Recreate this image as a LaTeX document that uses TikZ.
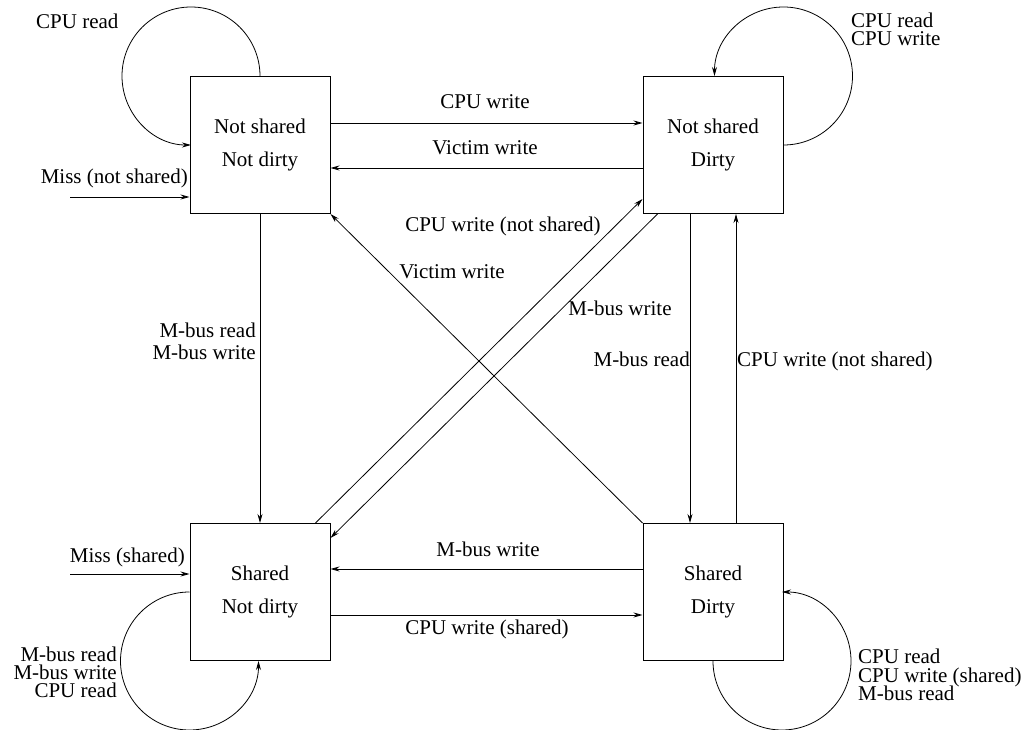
\documentclass[tikz,border=0pt]{standalone}
\usepackage{fontspec}
\setmainfont{Liberation Serif}
\usetikzlibrary{arrows.meta}
\begin{document}
\begin{tikzpicture}[x=1pt,y=1pt,
  state/.style={draw, line width=1pt, minimum width=140pt, minimum height=137pt, inner sep=0pt,
    align=center, font=\fontsize{21}{33}\selectfont},
  lbl/.style={inner sep=0pt, font=\fontsize{21}{17}\selectfont},
  tr/.style={line width=0.8pt, -{Stealth[length=9pt,width=5pt]}},
]
\useasboundingbox (0,0) rectangle (1029,729);
% states
\node[state] (NSND) at (260,584) {Not shared\\Not dirty};
\node[state] (NSD)  at (713,584) {Not shared\\Dirty};
\node[state] (SND)  at (260,137) {Shared\\Not dirty};
\node[state] (SD)   at (713,137) {Shared\\Dirty};
% self loops
\draw[tr] (NSND.north) arc[start angle=0, end angle=270, radius=69];
\draw[tr] (NSD.east) arc[start angle=-90, end angle=180, radius=69];
\draw[tr] (SND.west) arc[start angle=90, end angle=360, radius=69];
\draw[tr] (SD.south) arc[start angle=180, end angle=450, radius=69];
% misses
\coordinate (m1) at (70,532);
\coordinate (m2) at (70,155);
\draw[tr] (m1) -- (m1 -| NSND.west);
\draw[tr] (m2) -- (m2 -| SND.west);
% horizontal
\draw[tr] ([yshift=22pt]NSND.east) -- ([yshift=22pt]NSD.west);
\draw[tr] ([yshift=-23pt]NSD.west) -- ([yshift=-23pt]NSND.east);
\draw[tr] ([yshift=23pt]SD.west) -- ([yshift=23pt]SND.east);
\draw[tr] ([yshift=-23pt]SND.east) -- ([yshift=-23pt]SD.west);
% vertical
\draw[tr] (NSND.south) -- (SND.north);
\draw[tr] ([xshift=-23pt]NSD.south) -- ([xshift=-23pt]SD.north);
\draw[tr] ([xshift=23pt]SD.north) -- ([xshift=23pt]NSD.south);
% diagonals
\draw[tr] ([xshift=-15pt]SND.north east) -- ([yshift=15pt]NSD.south west);
\draw[tr] ([xshift=15pt]NSD.south west) -- ([yshift=-15pt]SND.north east);
\draw[tr] (SD.north west) -- (NSND.south east);
% labels
\node[lbl, anchor=base west] (l1) at (36,700) {CPU read};
\node[lbl, anchor=base west] (l2) at (851,701) {CPU read};
\node[lbl, anchor=base west] (l3) at (851,683) {CPU write};
\node[lbl, anchor=base east] (l4) at (117,67) {M-bus read};
\node[lbl, anchor=base east] (l5) at (117,49) {M-bus write};
\node[lbl, anchor=base east] (l6) at (117,31) {CPU read};
\node[lbl, anchor=base west] (l7) at (858,65) {CPU read};
\node[lbl, anchor=base west] (l8) at (858,47) {CPU write (shared)};
\node[lbl, anchor=base west] (l9) at (858,29) {M-bus read};
\node[lbl, anchor=base east] (l10) at (188,545) {Miss (not shared)};
\node[lbl, anchor=base east] (l11) at (185,166) {Miss (shared)};
\node[lbl, anchor=base] (l12) at (485,620) {CPU write};
\node[lbl, anchor=base] (l13) at (485,574) {Victim write};
\node[lbl, anchor=base] (l14) at (488,172) {M-bus write};
\node[lbl, anchor=base] (l15) at (487,94) {CPU write (shared)};
\node[lbl, anchor=base east] (l16) at (256,391) {M-bus read};
\node[lbl, anchor=base east] (l17) at (256,369) {M-bus write};
\node[lbl, anchor=base east] (l18) at (690,362) {M-bus read};
\node[lbl, anchor=base west] (l19) at (737,362) {CPU write (not shared)};
\node[lbl, anchor=base] (l20) at (503,497) {CPU write (not shared)};
\node[lbl, anchor=base] (l21) at (452,450) {Victim write};
\node[lbl, anchor=base] (l22) at (620,413) {M-bus write};
\end{tikzpicture}
\end{document}
